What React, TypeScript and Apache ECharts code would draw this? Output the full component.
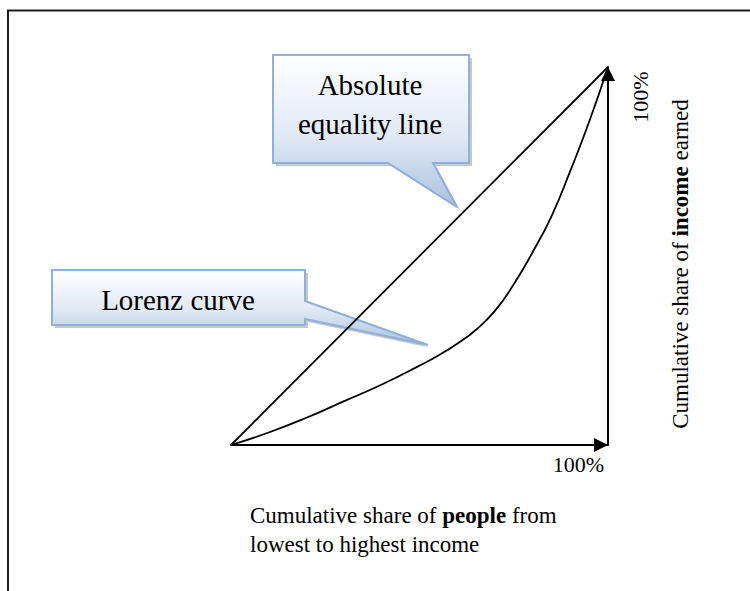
import React, { useEffect, useRef } from 'react';
import * as echarts from 'echarts';

// Cumulative share of people (x, %) and of income (y, %)
const lorenzShareOfPeople = [0, 10, 20, 30, 40, 50, 55, 60, 65, 70, 75, 80, 85, 90, 95, 100];
const lorenzShareOfIncome = [0, 3.3, 7.2, 11.6, 16, 21, 23.7, 26.8, 30.5, 35.5, 42.5, 51, 60.5, 72.5, 85.5, 100];
const equalityShareOfPeople = [0, 100];
const equalityShareOfIncome = [0, 100];

const axisMin = 0;
const axisMax = 100;
const xEndLabel = '100%';
const yEndLabel = '100%';
const xTitleLines = ['Cumulative share of {b|people} from', 'lowest to highest income'];
const yTitle = 'Cumulative share of {b|income} earned';
const equalityCalloutLines = ['Absolute', 'equality line'];
const lorenzCalloutText = 'Lorenz curve';

const SERIF = "'Liberation Serif', 'Times New Roman', Times, serif";
const f = (size: number, bold = false) => `${bold ? 'bold ' : ''}${size}px ${SERIF}`;

function zip(xs: number[], ys: number[]) {
  return xs.map((x, i) => [x, ys[i]]);
}

function calloutGradient() {
  return new echarts.graphic.LinearGradient(0, 0, 0, 1, [
    { offset: 0, color: '#ffffff' },
    { offset: 0.55, color: '#dfe8f4' },
    { offset: 1, color: '#a9c1df' },
  ]);
}

function callout(points: number[][], z: number) {
  return [
    {
      type: 'polygon',
      z,
      silent: true,
      x: 3,
      y: 3,
      shape: { points },
      style: { fill: '#9a9a9a', opacity: 0.55 },
    },
    {
      type: 'polygon',
      z: z + 1,
      silent: true,
      shape: { points },
      style: { fill: calloutGradient(), stroke: '#8fb0da', lineWidth: 2, lineJoin: 'miter' },
    },
  ];
}

function label(text: string, x: number, y: number, size: number, align: string, rotation = 0, rich = false) {
  const el: any = {
    type: 'text',
    z: 5,
    silent: true,
    x,
    y,
    rotation,
    style: {
      text,
      font: f(size),
      fill: '#000',
      align,
      verticalAlign: 'middle',
    },
  };
  if (rich) {
    el.style.rich = { b: { font: f(size, true), fontWeight: 'bold', fontSize: size, fontFamily: SERIF, fill: '#000' } };
  }
  return el;
}

export default function App() {
  const ref = useRef<HTMLDivElement>(null);

  useEffect(() => {
    document.body.style.margin = '0';
    if (!ref.current) return;
    const chart = echarts.init(ref.current, undefined, { renderer: 'svg' });

    const axisLineStyle = { color: '#000', width: 2 };

    const graphic: any[] = [
      {
        type: 'rect',
        z: 0,
        silent: true,
        shape: { x: 8, y: 10.5, width: 800, height: 700 },
        style: { fill: 'none', stroke: '#1e1e1e', lineWidth: 2 },
      },
      ...callout(
        [
          [273, 55],
          [469, 55],
          [469, 163],
          [433, 163],
          [457, 207],
          [388, 163],
          [273, 163],
        ],
        1
      ),
      ...callout(
        [
          [52, 270],
          [305, 270],
          [305, 301],
          [428, 345],
          [305, 319],
          [305, 325],
          [52, 325],
        ],
        1
      ),
      label(equalityCalloutLines[0], 370, 84.5, 29, 'center'),
      label(equalityCalloutLines[1], 370, 124, 29, 'center'),
      label(lorenzCalloutText, 178, 299.5, 29, 'center'),
      label(xTitleLines[0], 250, 515, 23, 'left', 0, true),
      label(xTitleLines[1], 250, 544, 23, 'left'),
      label(yTitle, 680, 264, 23, 'center', Math.PI / 2, true),
      label(yEndLabel, 640, 97, 22, 'center', Math.PI / 2),
    ];

    chart.setOption({
      animation: false,
      backgroundColor: '#ffffff',
      grid: { left: 231, right: 142, top: 67, bottom: 146, containLabel: false, outerBoundsMode: 'none' },
      xAxis: {
        type: 'value',
        min: axisMin,
        max: axisMax,
        interval: axisMax,
        axisLine: {
          show: true,
          onZero: false,
          lineStyle: axisLineStyle,
          symbol: ['none', 'triangle'],
          symbolSize: [14, 14],
          symbolOffset: [0, -7],
        },
        axisTick: { show: false },
        splitLine: { show: false },
        axisLabel: {
          formatter: (v: number) => (v === axisMax ? xEndLabel : ''),
          align: 'right',
          fontSize: 22,
          fontFamily: SERIF,
          color: '#000',
          margin: 8,
          padding: [0, 4, 0, 0],
        },
      },
      yAxis: {
        type: 'value',
        position: 'right',
        min: axisMin,
        max: axisMax,
        interval: axisMax,
        axisLine: {
          show: true,
          onZero: false,
          lineStyle: axisLineStyle,
          symbol: ['none', 'triangle'],
          symbolSize: [14, 14],
          symbolOffset: [0, -7],
        },
        axisTick: { show: false },
        splitLine: { show: false },
        axisLabel: { show: false },
      },
      series: [
        {
          type: 'line',
          name: 'Absolute equality line',
          data: zip(equalityShareOfPeople, equalityShareOfIncome),
          symbol: 'none',
          clip: false,
          z: 3,
          lineStyle: { color: '#000', width: 1.8 },
        },
        {
          type: 'line',
          name: 'Lorenz curve',
          data: zip(lorenzShareOfPeople, lorenzShareOfIncome),
          smooth: 0.5,
          symbol: 'none',
          clip: false,
          z: 3,
          lineStyle: { color: '#000', width: 1.8 },
        },
      ],
      graphic,
    });

    return () => chart.dispose();
  }, []);

  return <div ref={ref} style={{ width: 750, height: 591 }} />;
}
